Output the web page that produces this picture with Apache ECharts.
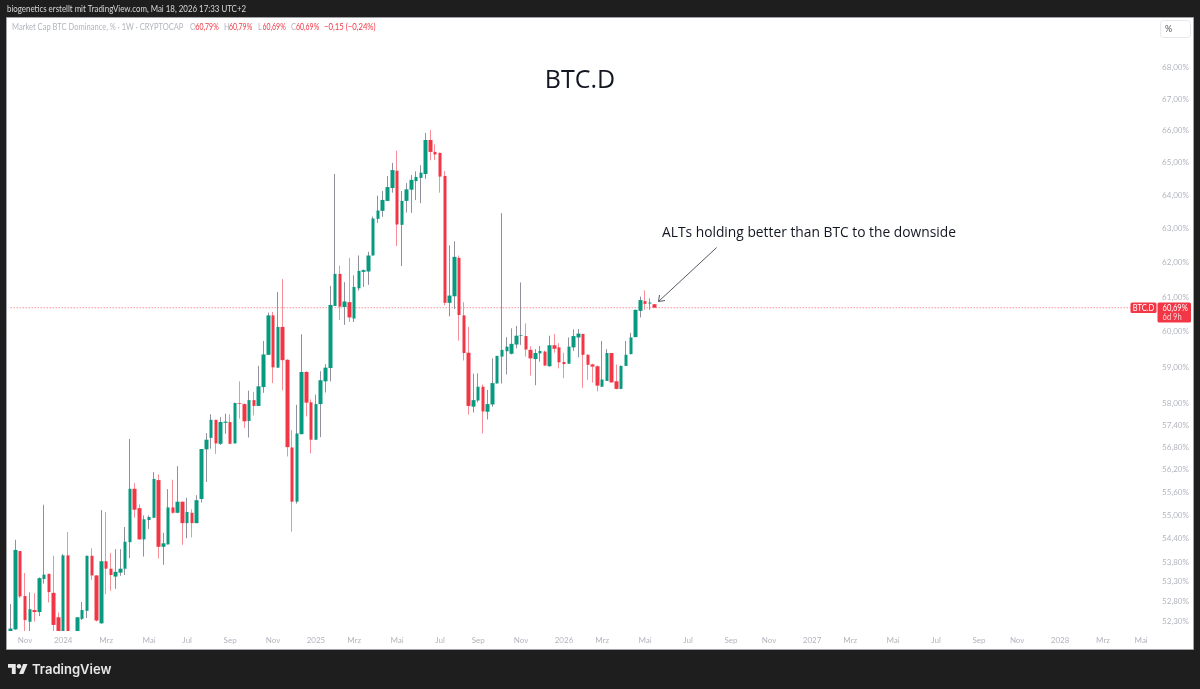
<!DOCTYPE html>
<html>
<head>
<meta charset="utf-8">
<title>BTC.D</title>
<style>html,body{margin:0;padding:0;background:#1e1e1e}#chart{width:1200px;height:689px}</style>
<script src="https://cdn.jsdelivr.net/npm/echarts@6/dist/echarts.min.js"></script>
</head>
<body>
<div id="chart"></div>
<script>
// Weekly OHLC of BTC dominance in percent, oldest week first.
const opens = [52.05,52.11,54.08,52.94,52.30,52.59,52.54,53.37,53.50,53.02,52.41,51.90,53.97,51.70,51.95,52.37,52.57,53.96,53.46,52.26,53.82,53.63,53.43,53.53,53.63,54.31,55.70,55.19,54.38,54.88,54.94,55.93,54.19,54.25,55.21,55.07,55.36,54.80,55.07,54.80,55.43,56.75,57.06,57.55,56.90,57.47,57.49,56.91,58.01,57.98,57.52,58.09,57.93,58.45,59.35,60.47,58.99,60.14,59.21,56.80,55.36,57.16,58.87,58.03,57.01,57.98,58.61,58.98,60.74,61.67,60.71,60.85,60.38,61.25,61.73,61.74,62.21,63.30,63.54,63.84,64.23,64.76,63.12,63.84,64.18,64.44,64.54,64.66,65.71,65.34,65.31,64.60,60.83,61.02,62.14,60.47,59.41,57.91,58.08,58.46,57.77,57.97,58.55,59.30,59.45,59.38,59.64,59.89,59.88,59.49,59.23,59.39,59.44,59.03,59.62,59.56,59.15,59.10,59.56,59.84,59.94,59.35,59.08,59.03,58.46,58.62,59.40,58.61,58.40,59.04,59.37,59.85,60.60,60.88,60.81,60.79];
const closes = [52.13,54.11,52.93,52.34,52.61,52.54,53.39,53.48,53.04,52.22,51.90,53.97,51.90,51.90,52.41,52.59,53.96,53.46,52.33,53.82,53.63,53.47,53.55,53.63,54.32,55.70,55.15,54.38,54.90,54.96,55.96,54.19,54.28,55.21,55.07,55.36,54.80,55.09,54.80,55.40,56.76,57.01,57.55,56.91,57.49,57.50,56.90,58.01,57.99,57.51,58.09,57.93,58.47,59.36,60.47,59.00,60.14,59.20,56.81,55.36,57.18,58.87,58.02,57.01,57.98,58.64,58.99,60.77,61.67,60.72,60.87,60.41,61.29,61.76,61.78,62.21,63.31,63.55,63.87,64.26,64.78,63.13,63.84,64.19,64.48,64.57,64.70,65.71,65.34,65.26,64.58,60.83,61.04,62.17,60.48,59.40,57.93,58.09,58.46,57.78,57.98,58.56,59.32,59.49,59.58,59.66,59.89,59.91,59.50,59.25,59.40,59.46,59.05,59.62,59.52,59.14,59.09,59.58,59.88,59.95,59.35,59.07,59.02,58.49,58.66,59.40,58.58,58.40,59.04,59.35,59.84,60.63,60.91,60.80,60.84,60.69];
const highs = [52.74,54.37,54.08,53.52,53.03,53.01,53.41,55.28,53.50,53.96,52.53,54.00,54.57,52.00,52.41,52.79,53.96,54.15,53.46,55.14,55.09,54.03,54.13,54.13,54.70,57.03,55.85,55.29,55.00,55.00,56.14,56.08,54.55,55.69,55.94,56.30,55.36,55.46,55.16,55.53,56.76,57.19,57.70,57.55,57.62,57.72,57.70,58.02,58.61,58.00,58.35,58.31,59.04,59.74,60.55,60.57,61.14,61.52,59.23,57.27,57.96,59.93,58.89,58.11,58.24,58.89,59.09,61.32,64.66,61.91,61.43,62.14,61.63,62.21,61.80,62.32,63.37,64.00,64.14,64.60,65.00,65.38,64.14,64.38,64.63,64.74,64.93,65.93,66.02,65.57,65.32,64.75,62.51,62.63,62.21,60.85,60.14,58.82,58.83,58.52,58.37,59.25,59.32,63.47,59.85,60.10,60.17,61.42,60.24,59.59,59.51,59.60,59.47,59.89,59.94,59.68,59.41,59.84,60.07,60.08,59.95,59.37,59.10,59.05,59.74,59.51,59.40,59.08,59.05,59.74,59.97,60.63,61.01,61.19,60.96,60.79];
const lows = [51.95,52.10,52.89,52.00,52.00,52.30,52.44,53.25,52.78,52.00,51.80,51.80,51.80,51.50,51.90,52.34,52.39,53.35,52.30,52.25,52.99,53.07,53.12,53.45,53.47,53.90,54.94,54.37,53.94,54.65,54.94,53.89,53.73,54.25,55.05,55.06,54.24,54.41,54.43,54.80,55.34,55.88,56.77,56.63,56.87,57.17,56.89,56.91,57.58,57.33,57.07,57.67,57.93,58.29,59.35,58.56,58.99,58.36,56.56,54.58,55.31,57.16,57.64,56.64,57.01,57.08,58.30,58.61,60.74,60.34,60.20,60.28,60.28,61.18,61.29,61.35,62.21,63.18,63.36,63.84,64.09,62.49,61.90,63.49,63.48,63.87,63.77,64.51,65.08,65.09,64.09,60.76,60.44,60.65,59.75,59.19,57.69,57.75,58.03,57.18,57.56,57.91,58.55,58.55,58.80,59.36,59.53,59.63,59.30,58.77,58.50,59.16,59.04,59.02,59.41,58.97,58.70,59.10,59.46,59.28,58.43,58.65,58.57,58.33,58.45,58.62,58.57,58.39,58.39,59.04,59.36,59.85,60.41,60.63,60.63,60.69];

// Mondays that carry a time-axis label, with the label drawn for each.
const timeTickDates = ['2023-11-06','2024-01-01','2024-03-04','2024-05-06','2024-07-01','2024-09-02','2024-11-04','2025-01-06','2025-03-03','2025-05-05','2025-07-07','2025-09-01','2025-11-03','2026-01-05','2026-03-02','2026-05-04','2026-07-06','2026-09-07','2026-11-02','2027-01-04','2027-03-01','2027-05-03','2027-07-05','2027-09-06','2027-11-01','2028-01-03','2028-03-06','2028-05-01'];
const timeTickLabels = ['Nov','2024','Mrz','Mai','Jul','Sep','Nov','2025','Mrz','Mai','Jul','Sep','Nov','2026','Mrz','Mai','Jul','Sep','Nov','2027','Mrz','Mai','Jul','Sep','Nov','2028','Mrz','Mai'];

// Price scale ticks of the logarithmic axis.
const priceTicks = [68,67,66,65,64,63,62,61,60,59,58,57.4,56.8,56.2,55.6,55,54.4,53.8,53.3,52.8,52.3];
const lastPrice = 60.69;

const firstWeek = Date.UTC(2023, 9, 16);
const weekSlots = 240;
const WEEK_MS = 7 * 24 * 3600 * 1000;
const weeks = [];
for (let i = 0; i < weekSlots; i++) weeks.push(new Date(firstWeek + i * WEEK_MS).toISOString().slice(0, 10));

const tickLabelByDate = {};
timeTickDates.forEach((d, i) => { tickLabelByDate[d] = timeTickLabels[i]; });

const UI_FONT = 'Lato, Roboto, sans-serif';
const SMALL = '8.9px ' + UI_FONT;
const AXIS_SIZE = 8;
const GREEN = '#089981', RED = '#f23645', MUTED = '#b2b5be';
const fmtPercent = v => Number(v).toFixed(2).replace('.', ',') + '%';

const wickData = opens.map((o, i) => [o, closes[i], lows[i], highs[i]]);
const bodyData = opens.map((o, i) => [o, closes[i], Math.min(o, closes[i]), Math.max(o, closes[i])]);

// Header line above the chart pane: [text, x, colour, horizontal squeeze]
const legendParts = [
  ['Market Cap BTC Dominance, % · 1W · CRYPTOCAP', 12, MUTED, 0.85],
  ['O', 190, MUTED, 0.85], ['60,79%', 195.5, RED, 0.78],
  ['H', 224, MUTED, 0.85], ['60,79%', 229, RED, 0.78],
  ['L', 258, MUTED, 0.85], ['60,69%', 262.5, RED, 0.78],
  ['C', 291, MUTED, 0.85], ['60,69%', 296, RED, 0.78],
  ['−0,15 (−0,24%)', 324, RED, 0.87]
];

const chart = echarts.init(document.getElementById('chart'), null, { renderer: 'canvas' });
chart.setOption({
  animation: false,
  backgroundColor: '#1e1e1e',
  grid: { left: 8.3, top: 18, width: 1144.8, height: 613 },
  xAxis: {
    type: 'category',
    z: 20,
    data: weeks,
    boundaryGap: true,
    axisLine: { show: false },
    axisTick: { show: false },
    splitLine: { show: false },
    axisLabel: {
      color: MUTED, fontFamily: UI_FONT, fontSize: AXIS_SIZE, margin: 5,
      hideOverlap: false,
      interval: (i, value) => value in tickLabelByDate,
      formatter: value => tickLabelByDate[value] || ''
    }
  },
  yAxis: {
    type: 'log',
    logBase: Math.E,
    position: 'right',
    min: 52.07,
    max: 69.62,
    axisLine: { show: false },
    axisTick: { show: false },
    splitLine: { show: false },
    axisLabel: {
      customValues: priceTicks,
      color: MUTED, fontFamily: UI_FONT, fontSize: AXIS_SIZE, margin: 9,
      formatter: fmtPercent
    }
  },
  series: [
    {
      // Dotted last-price line across the pane
      name: 'last', type: 'line', data: weeks.map(() => lastPrice), z: 1,
      showSymbol: false, silent: true,
      lineStyle: { color: '#f4606c', width: 1, type: [1, 2] }
    },
    {
      // Wicks: colour differs from the bodies, so they sit on their own layer.
      name: 'wicks', type: 'candlestick', data: wickData, barWidth: 1, z: 2, clip: true,
      itemStyle: { color: '#8f929e', color0: '#f88f98', borderColor: '#8f929e', borderColor0: '#f88f98', borderWidth: 1 }
    },
    {
      name: 'bodies', type: 'candlestick', data: bodyData, barWidth: 4, z: 3, clip: true,
      itemStyle: { color: GREEN, color0: RED, borderColor: GREEN, borderColor0: RED, borderWidth: 0 }
    }
  ],
  graphic: { elements: [
    // Chart pane
    { type: 'rect', z: -10, silent: true, shape: { x: 6.5, y: 17.5, width: 1187, height: 632 },
      style: { fill: '#ffffff', stroke: '#a0a2a8', lineWidth: 1 } },
    // Time-scale strip: candles running below the visible price range stop at its edge
    { type: 'rect', z: 5, silent: true, shape: { x: 7, y: 631, width: 1186, height: 18 }, style: { fill: '#ffffff' } },
    // Attribution line
    { type: 'text', z: 50, x: 7, y: 9.5, scaleX: 0.89, style: { text: 'biogenetics erstellt mit TradingView.com, Mai 18, 2026 17:33 UTC+2',
      fill: '#d8d8d8', font: SMALL, verticalAlign: 'middle' } },
    // Instrument legend
    ...legendParts.map(p => ({ type: 'text', z: 50, x: p[1], y: 27.5, scaleX: p[3], style: { text: p[0], fill: p[2],
      font: SMALL, verticalAlign: 'middle' } })),
    // Chart title and annotation
    { type: 'text', z: 50, x: 580, y: 81, style: { text: 'BTC.D', fill: '#131722',
      font: '25px "Open Sans", sans-serif', align: 'center', verticalAlign: 'middle' } },
    { type: 'text', z: 50, x: 662, y: 233, style: { text: 'ALTs holding better than BTC to the downside', fill: '#131722',
      font: '13.8px "Open Sans", sans-serif', verticalAlign: 'middle' } },
    // Annotation arrow
    { type: 'line', z: 50, silent: true, shape: { x1: 716.7, y1: 247.5, x2: 658.5, y2: 301.5 }, style: { stroke: '#555a66', lineWidth: 1 } },
    { type: 'polyline', z: 50, silent: true, shape: { points: [[659.5, 295], [658.5, 301.5], [665, 300.5]] }, style: { stroke: '#555a66', lineWidth: 1, fill: 'none' } },
    // Percent scale button
    { type: 'rect', z: 50, silent: true, shape: { x: 1160.5, y: 20.5, width: 30, height: 17, r: 3 }, style: { fill: '#fff', stroke: '#e6e8ee', lineWidth: 1 } },
    { type: 'text', z: 51, x: 1165, y: 29, style: { text: '%', fill: '#50535e', font: SMALL, verticalAlign: 'middle' } },
    // Last-price tags
    { type: 'rect', z: 60, silent: true, shape: { x: 1130.5, y: 302.5, width: 26, height: 10.5, r: 1.5 }, style: { fill: RED } },
    { type: 'text', z: 61, x: 1143.5, y: 308, scaleX: 0.85, style: { text: 'BTC.D', fill: '#fff', font: SMALL, align: 'center', verticalAlign: 'middle' } },
    { type: 'rect', z: 60, silent: true, shape: { x: 1157.5, y: 302.5, width: 33.5, height: 20, r: 1.5 }, style: { fill: RED } },
    { type: 'text', z: 61, x: 1162.5, y: 308, scaleX: 0.85, style: { text: '60,69%', fill: '#fff', font: SMALL, verticalAlign: 'middle' } },
    { type: 'text', z: 61, x: 1162.5, y: 317, scaleX: 0.85, style: { text: '6d 9h', fill: '#fcd2d6', font: SMALL, verticalAlign: 'middle' } },
    // Footer logo and wordmark
    { type: 'group', z: 50, x: 8, y: 661.8, scaleX: 0.55, scaleY: 0.55, children: [
      { type: 'polygon', z: 50, shape: { points: [[0,4],[14,4],[14,22],[7,22],[7,11],[0,11]] }, style: { fill: '#e8e8e8' } },
      { type: 'polygon', z: 50, shape: { points: [[27.5,4],[35.5,4],[28,22],[20,22]] }, style: { fill: '#e8e8e8' } },
      { type: 'circle', z: 50, shape: { cx: 20, cy: 8, r: 4 }, style: { fill: '#e8e8e8' } }
    ] },
    { type: 'text', z: 50, x: 32, y: 669.5, scaleX: 0.98, style: { text: 'TradingView', fill: '#e8e8e8',
      font: '600 13.3px Inter, Roboto, sans-serif', verticalAlign: 'middle' } }
  ] }
});
</script>
</body>
</html>
